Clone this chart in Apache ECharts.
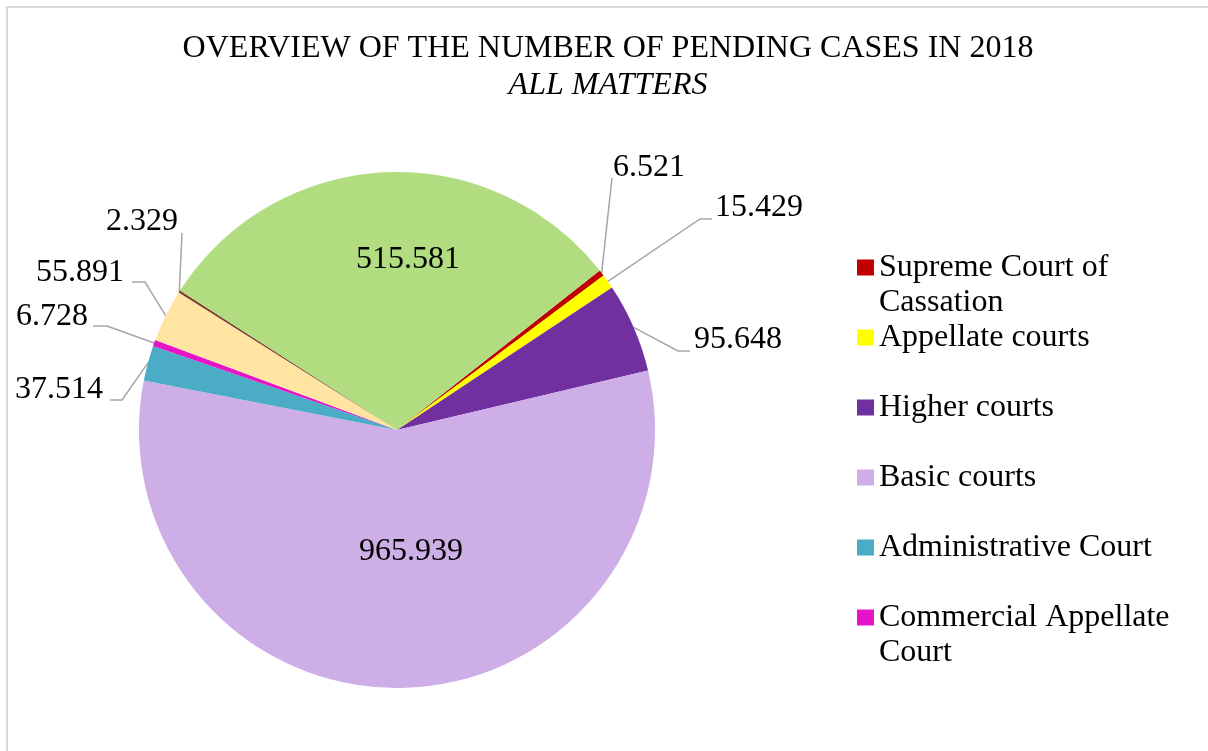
<!DOCTYPE html>
<html>
<head>
<meta charset="utf-8">
<script src="https://cdn.jsdelivr.net/npm/echarts@6/dist/echarts.min.js"></script>
<style>
  html, body { margin: 0; padding: 0; background: #fff; }
  #chart { width: 1208px; height: 751px; }
</style>
</head>
<body>
<div id="chart"></div>
<script>
// data
const categories = [
  'Supreme Court of Cassation',
  'Appellate courts',
  'Higher courts',
  'Basic courts',
  'Administrative Court',
  'Commercial Appellate Court',
  'Commercial courts',
  'Misdemeanour Appellate Court',
  'Misdemeanour courts'
]
const pendingCases = [6521, 15429, 95648, 965939, 37514, 6728, 55891, 2329, 515581]
const legendNames = categories.slice(0, 6) // the rest of the legend is cut off

const colors = ['#c00000', '#ffff00', '#7030a0', '#cdaee6', '#4bacc6', '#e614c8', '#ffe5a1', '#7b3a2b', '#b1dd80']
const FONT = '"Liberation Serif", "Times New Roman", serif'

// where the labels sit (x, y of the text, plus leader line ends next to it)
const labelSpots = [
  { x: 613, y: 168, align: 'left', elbow: [612, 178], end: [612, 178] },
  { x: 715, y: 208, align: 'left', elbow: [700, 219], end: [712, 219] },
  { x: 694, y: 340, align: 'left', elbow: [678, 351], end: [690, 351] },
  { x: 411, y: 552, align: 'center' },
  { x: 103, y: 390, align: 'right', elbow: [122, 400], end: [110, 400] },
  { x: 88, y: 317, align: 'right', elbow: [107, 326], end: [93, 326] },
  { x: 124, y: 273, align: 'right', elbow: [145, 282], end: [132, 282] },
  { x: 178, y: 222, align: 'right', elbow: [182, 233], end: [182, 233] },
  { x: 408, y: 260, align: 'center' }
]

const insideIdx = [3, 8]

const fmt = v => v.toString().replace(/\B(?=(\d{3})+(?!\d))/g, '.')

const chart = echarts.init(document.getElementById('chart'))

// legend entries are three lines tall, so the first text line sits next to the square
const twoLine = {
  'Supreme Court of Cassation': 'Supreme Court of\nCassation',
  'Commercial Appellate Court': 'Commercial Appellate\nCourt'
}
const legendText = name => ' \n' + (twoLine[name] || name + '\n ')

const option = {
  animation: false,
  color: colors,
  title: {
    text: 'OVERVIEW OF THE NUMBER OF PENDING CASES IN 2018',
    subtext: 'ALL MATTERS',
    left: 608,
    textAlign: 'center',
    top: 33,
    padding: 0,
    itemGap: 5,
    textStyle: { fontFamily: FONT, fontSize: 32, fontWeight: 'normal', color: '#000' },
    subtextStyle: { fontFamily: FONT, fontSize: 32, fontStyle: 'italic', color: '#000' }
  },
  legend: {
    orient: 'vertical',
    left: 857,
    top: 215,
    padding: 0,
    itemGap: -35,
    itemWidth: 17,
    itemHeight: 16,
    icon: 'rect',
    data: legendNames,
    formatter: legendText,
    textStyle: {
      fontFamily: FONT,
      fontSize: 32,
      lineHeight: 35,
      color: '#000'
    }
  },
  graphic: [{
    type: 'rect',
    shape: { x: 7, y: 7, width: 1300, height: 800 },
    style: { fill: 'none', stroke: '#d9d9d9', lineWidth: 2 },
    silent: true
  }],
  series: [{
    type: 'pie',
    center: [397, 430],
    radius: 258,
    startAngle: 38.2,
    clockwise: true,
    avoidLabelOverlap: false,
    emphasis: { scale: false },
    itemStyle: { borderWidth: 0 },
    label: {
      show: true,
      position: 'outside',
      formatter: p => fmt(p.value),
      fontFamily: FONT,
      fontSize: 32,
      color: '#000'
    },
    labelLine: {
      show: true,
      length: 20,
      length2: 10,
      lineStyle: { color: '#a6a6a6', width: 1.5 }
    },
    labelLayout: params => {
      const s = labelSpots[params.dataIndex]
      const out = { x: s.x, y: s.y, align: s.align, verticalAlign: 'middle' }
      if (s.elbow && params.labelLinePoints) {
        out.labelLinePoints = [params.labelLinePoints[0], s.elbow, s.end]
      }
      return out
    },
    data: categories.map((name, i) => {
      const item = { name: name, value: pendingCases[i] }
      if (insideIdx.includes(i)) {
        item.label = { position: 'inside' }
        item.labelLine = { show: false }
      }
      return item
    })
  }]
}

chart.setOption(option)
</script>
</body>
</html>
